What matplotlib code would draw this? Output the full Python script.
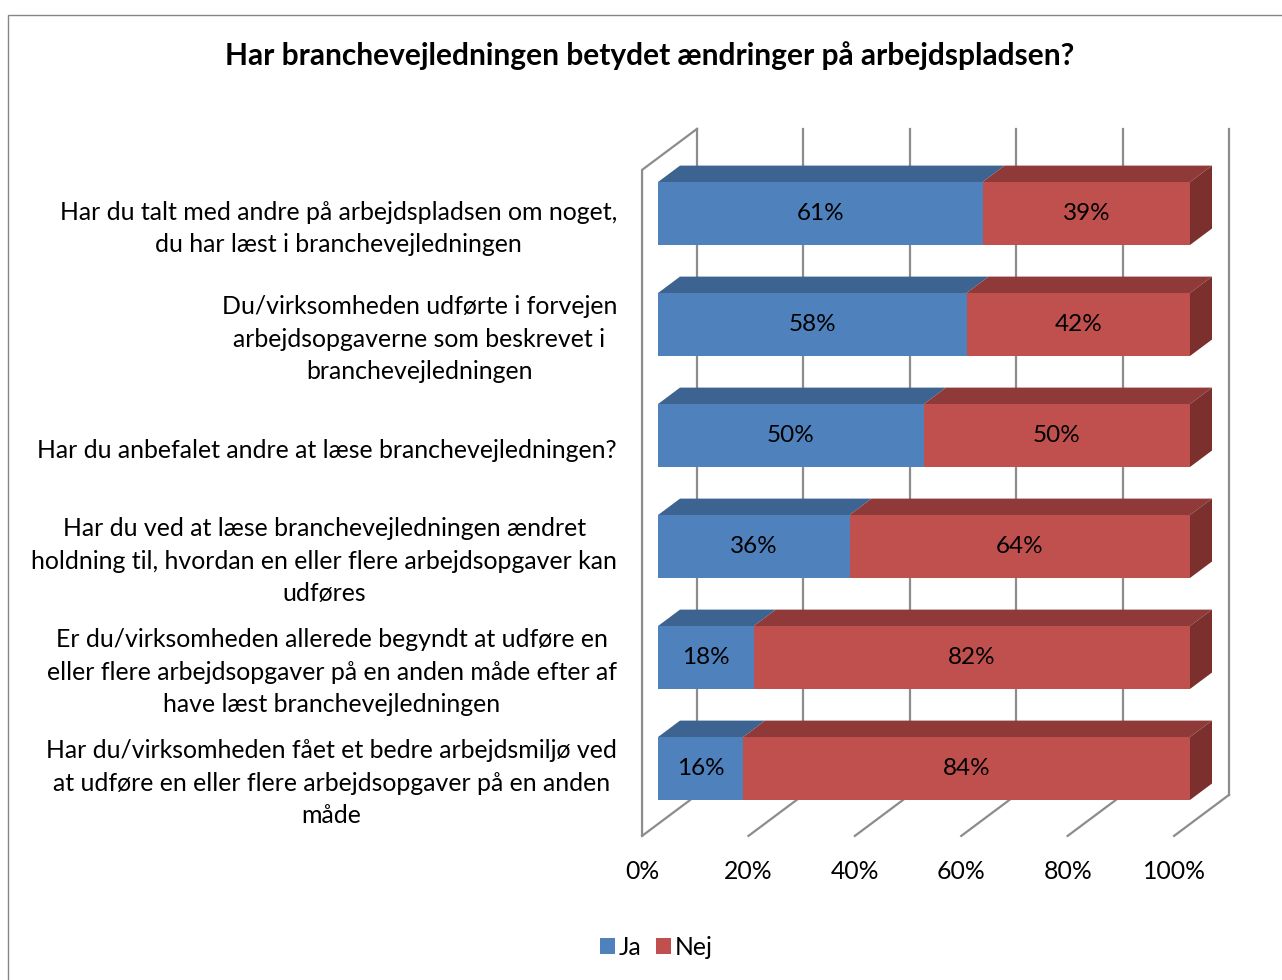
import matplotlib
matplotlib.use('Agg')
import matplotlib.pyplot as plt
from matplotlib.patches import Polygon, Rectangle, Patch

plt.rcParams['font.family'] = ['Lato', 'DejaVu Sans']

# Data
categories = [
    'Har du talt med andre på arbejdspladsen om noget,\ndu har læst i branchevejledningen',
    'Du/virksomheden udførte i forvejen\narbejdsopgaverne som beskrevet i\nbranchevejledningen',
    'Har du anbefalet andre at læse branchevejledningen?',
    'Har du ved at læse branchevejledningen ændret\nholdning til, hvordan en eller flere arbejdsopgaver kan\nudføres',
    'Er du/virksomheden allerede begyndt at udføre en\neller flere arbejdsopgaver på en anden måde efter af\nhave læst branchevejledningen',
    'Har du/virksomheden fået et bedre arbejdsmiljø ved\nat udføre en eller flere arbejdsopgaver på en anden\nmåde',
]
ja = [61, 58, 50, 36, 18, 16]
nej = [39, 42, 50, 64, 82, 84]
ticks = [0, 20, 40, 60, 80, 100]
series_names = ['Ja', 'Nej']

front_cols = ['#4F81BD', '#C0504D']
top_cols = ['#3D6491', '#8F3A38']
side_cols = ['#4A6F9C', '#7B302E']
grid_col = '#8C8C8C'

# fake 3d: depth 0 = front wall plane, 1 = back wall plane
DX, DY = 10.34, -0.37
BAR_D0, BAR_D1 = 0.29, 0.69


def proj(x, y, d):
    return x + (d - BAR_D0) * DX, y + (d - BAR_D0) * DY


W, H = 1282, 980
fig = plt.figure(figsize=(W / 100, H / 100), dpi=100)
ax = fig.add_axes([658 / W, 1 - 824 / H, 532 / W, 666 / H])
ax.set_xlim(0, 100)
ax.set_ylim(5.5, -0.5)
ax.axis('off')

n = len(categories)
top_y, bot_y = -0.5, n - 0.5

# back wall gridlines + floor lines
for t in ticks:
    x0, y0 = proj(t, top_y, 1)
    x1, y1 = proj(t, bot_y, 1)
    ax.plot([x0, x1], [y0, y1], color=grid_col, lw=1.6, zorder=1, clip_on=False)
    fx, fy = proj(t, bot_y, 0)
    ax.plot([fx, x1], [fy, y1], color=grid_col, lw=1.6, zorder=1, clip_on=False)
    ax.text(fx, fy + 0.32, f'{t}%', ha='center', va='center', fontsize=17.8, zorder=5)

# left wall
x0, y0 = proj(0, top_y, 0)
x1, y1 = proj(0, bot_y, 0)
xb, yb = proj(0, top_y, 1)
ax.plot([xb, x0, x1], [yb, y0, y1], color=grid_col, lw=1.6, zorder=1, clip_on=False)

# bars
h = 0.567
for i in range(n):
    left = 0
    vals = [ja[i], nej[i]]
    for s, v in enumerate(vals):
        yt = i - h / 2
        yb_ = i + h / 2
        # top face
        p1 = (left, yt)
        p2 = (left + v, yt)
        p3 = (left + v + (BAR_D1 - BAR_D0) * DX, yt + (BAR_D1 - BAR_D0) * DY)
        p4 = (left + (BAR_D1 - BAR_D0) * DX, yt + (BAR_D1 - BAR_D0) * DY)
        ax.add_patch(Polygon([p1, p2, p3, p4], closed=True, fc=top_cols[s], ec='none',
                             zorder=2 + s * 0.1, clip_on=False))
        # side face for last segment
        if s == len(vals) - 1:
            q1 = (left + v, yt)
            q2 = (left + v + (BAR_D1 - BAR_D0) * DX, yt + (BAR_D1 - BAR_D0) * DY)
            q3 = (left + v + (BAR_D1 - BAR_D0) * DX, yb_ + (BAR_D1 - BAR_D0) * DY)
            q4 = (left + v, yb_)
            ax.add_patch(Polygon([q1, q2, q3, q4], closed=True, fc=side_cols[s], ec='none',
                                 zorder=2.5, clip_on=False))
        ax.barh(i, v, left=left, height=h, color=front_cols[s], zorder=3, clip_on=False)
        ax.text(left + v / 2, i, f'{v}%', ha='center', va='center', fontsize=17.5, zorder=4)
        left += v

# category labels
for i, c in enumerate(categories):
    lx, ly = proj(-4.7, i, 0)
    ax.text(lx, ly + 0.027, c, ha='right', va='center', multialignment='center',
            fontsize=17.9, linespacing=1.5, clip_on=False)

fig.text(650 / W, 1 - 56 / H, 'Har branchevejledningen betydet ændringer på arbejdspladsen?',
         ha='center', va='center', fontsize=21.5, fontweight='bold')

handles = [Patch(facecolor=front_cols[k], edgecolor='none') for k in range(2)]
fig.legend(handles, series_names, loc='center', bbox_to_anchor=(656 / W, 1 - 947 / H),
           ncol=2, frameon=False, fontsize=17.8, handlelength=0.6, handleheight=0.6,
           handletextpad=0.15, columnspacing=0.6)

fig.add_artist(Rectangle((8 / W, -0.1), 2, (1 - 15 / H) + 0.1, transform=fig.transFigure,
                         fill=False, ec='#868686', lw=1))

fig.savefig('out.png', dpi=100)
